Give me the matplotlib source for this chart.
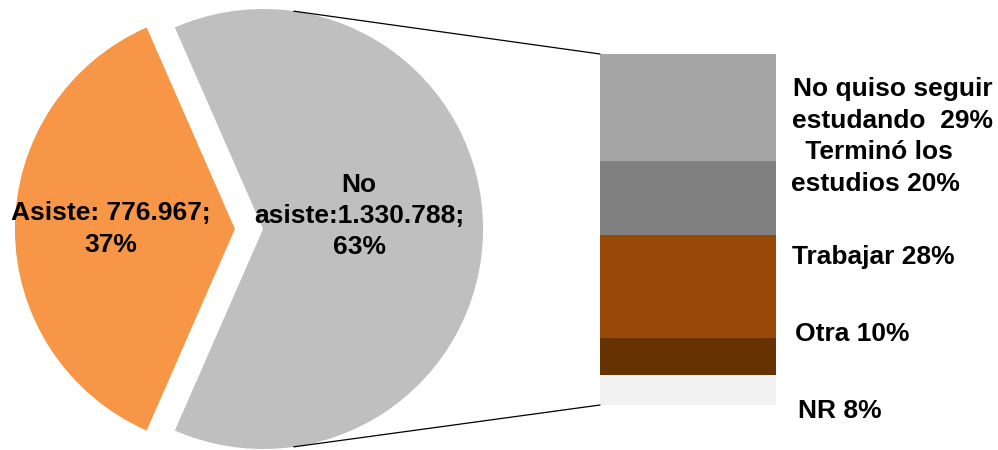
import matplotlib.pyplot as plt
from matplotlib.patches import ConnectionPatch
import numpy as np

# pie: asistencia
pie_labels = ["Asiste: 776.967;\n37%", "No\nasiste:1.330.788;\n63%"]
pie_values = [776967, 1330788]
pie_colors = ["#F79646", "#BFBFBF"]

# bar: motivo de no asistencia (bottom to top)
bar_labels = ["NR 8%", "Otra 10%", "Trabajar 28%", " Terminó los\nestudios 20%",
              "No quiso seguir\nestudando  29%"]
bar_values = [8, 10, 28, 20, 29]
bar_colors = ["#F2F2F2", "#663300", "#984807", "#808080", "#A6A6A6"]

W, H = 998, 450
fig = plt.figure(figsize=(W / 100, H / 100), dpi=100)
plt.rcParams['font.family'] = ['Liberation Sans', 'DejaVu Sans']
fs = 19
ls = 1.38

# pie axes: 220 px radius, centre at (249, 221) px
r_px = 220
half = 245
ax1 = fig.add_axes([(249 - half) / W, (221 - half) / H, 2 * half / W, 2 * half / H])
lim = half / r_px

start = 180 - 360 * pie_values[0] / sum(pie_values) / 2
ax1.pie(pie_values, colors=pie_colors, startangle=start, explode=[0.064, 0.064],
        radius=1, center=(0, 0), frame=True, wedgeprops=dict(linewidth=0))
ax1.set_xlim(-lim, lim)
ax1.set_ylim(-lim, lim)
ax1.set_aspect("equal")
ax1.axis("off")

ax1.text(-0.63, 0.0, pie_labels[0], ha="center", va="center", fontsize=fs,
         fontweight="bold", linespacing=ls)
ax1.text(0.5, 0.06, pie_labels[1], ha="center", va="center", fontsize=fs,
         fontweight="bold", linespacing=ls)

# bar axes
ax2 = fig.add_axes([600 / W, 45 / H, 176 / W, 351 / H])
total = sum(bar_values)
bottom = 0
for v, c in zip(bar_values, bar_colors):
    ax2.bar(0, v, bottom=bottom, width=1, color=c, linewidth=0)
    bottom += v
ax2.set_xlim(-0.5, 0.5)
ax2.set_ylim(0, total)
ax2.axis("off")

label_y = [-0.017, 0.202, 0.422, 0.675, 0.855]
label_x = [1.125, 1.11, 1.09, 1.085, 1.09]
for lab, x, y in zip(bar_labels, label_x, label_y):
    ax2.text(x, y, lab, transform=ax2.transAxes, ha="left", va="center",
             fontsize=fs, fontweight="bold", multialignment="center", linespacing=ls)

# connector lines from the "No asiste" wedge to the bar
ang = np.deg2rad(82)
ex = 0.064
for sgn, yb in [(1, total), (-1, 0)]:
    con = ConnectionPatch(xyA=(ex + np.cos(ang), sgn * np.sin(ang)), coordsA=ax1.transData,
                          xyB=(-0.5, yb), coordsB=ax2.transData, color="black", linewidth=0.9)
    fig.add_artist(con)

plt.savefig("out.png", dpi=100)
